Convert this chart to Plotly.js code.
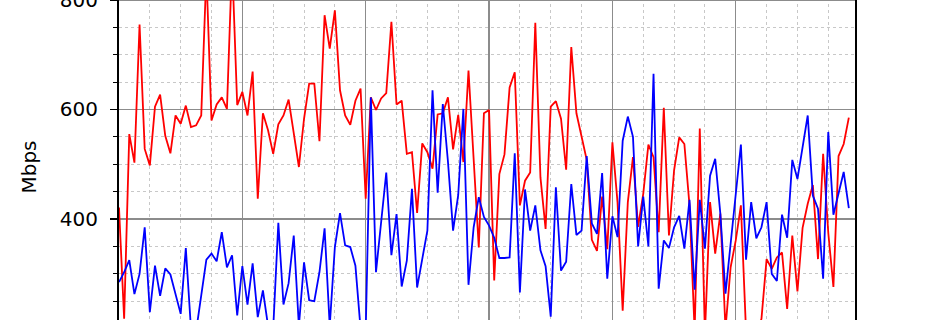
<!DOCTYPE html>
<html>
<head>
<meta charset="utf-8">
<script src="https://cdn.plot.ly/plotly-3.0.1.min.js"></script>
<style>
html, body { margin:0; padding:0; overflow:hidden; background:#ffffff; width:950px; height:320px; }
#chart { position:absolute; left:0; top:-64px; width:950px; height:502px; }
</style>
</head>
<body>
<div id="chart"></div>
<script>
// Throughput samples (Mbps)
const redSeries = [
 421,218,555,503,755,528,498,605,627,552,520,589,574,607,568,571,589,850,580,609,
 622,601,870,608,632,589,669,437,593,562,519,573,589,618,557,495,583,647,647,542,
 772,711,781,635,589,572,616,638,437,622,599,620,630,760,609,616,519,522,411,538,
 522,492,591,593,622,527,590,504,671,510,348,593,599,288,482,518,640,668,425,470,
 485,758,476,382,605,615,583,490,714,593,549,508,362,342,441,345,540,430,233,431,
 513,386,446,536,513,376,603,370,489,549,537,425,195,565,190,431,337,410,200,312,
 361,425,195,180,190,218,327,309,330,339,236,370,268,384,428,462,327,519,375,276,
 515,537,585
];
const blueSeries = [
 285,303,325,263,300,385,230,315,260,310,299,263,227,347,200,195,260,326,337,323,
 376,312,334,224,314,244,319,221,270,205,200,393,244,283,370,205,321,252,250,303,
 383,205,349,411,352,349,315,200,195,622,303,392,485,334,409,277,324,455,275,327,
 379,635,448,610,505,379,444,601,280,385,440,404,388,366,329,329,330,520,266,454,
 379,425,343,314,222,458,306,322,464,371,379,515,392,373,484,291,405,367,543,587,
 550,350,441,350,665,273,361,347,385,406,346,435,271,435,346,479,510,410,264,355,
 445,536,326,431,365,385,431,300,287,408,366,508,473,531,589,443,419,291,559,408,
 446,486,420
];
const sampleIndex = redSeries.map((_, i) => i);
const yTitle = 'Mbps';

const font = {family:'DejaVu Sans, sans-serif', size:20, color:'#000000'};

const traces = [
  {x: sampleIndex, y: redSeries, type:'scatter', mode:'lines',
   line:{color:'#ff0000', width:1.8}, name:'red', hoverinfo:'skip'},
  {x: sampleIndex, y: blueSeries, type:'scatter', mode:'lines',
   line:{color:'#0000ff', width:1.8}, name:'blue', hoverinfo:'skip'}
];

const layout = {
  width:950, height:502,
  margin:{l:119, r:95, t:20, b:60},
  paper_bgcolor:'#ffffff', plot_bgcolor:'#ffffff',
  showlegend:false,
  font: font,
  xaxis:{
    range:[0,143.2], tick0:0, dtick:24,
    ticks:'outside', ticklen:7, tickcolor:'#000000', tickwidth:1.5,
    showticklabels:false,
    showgrid:true, gridcolor:'#8c8c8c', gridwidth:1.4,
    minor:{dtick:6, showgrid:true, gridcolor:'#c8c8c8', griddash:'dot', gridwidth:1},
    showline:true, linecolor:'#000000', linewidth:2, mirror:true,
    zeroline:false, tickfont:font
  },
  yaxis:{
    range:[110,880], tick0:0, dtick:200,
    ticks:'outside', ticklen:7, tickcolor:'#000000', tickwidth:1.5,
    ticklabelstandoff:8,
    showgrid:true, gridcolor:'#8c8c8c', gridwidth:1.4,
    minor:{dtick:50, ticks:'outside', ticklen:4, tickcolor:'#000000', tickwidth:1,
           showgrid:true, gridcolor:'#c8c8c8', griddash:'dot', gridwidth:1},
    showline:true, linecolor:'#000000', linewidth:2, mirror:true,
    zeroline:false, tickfont:font,
    title:{text:yTitle, font:font, standoff:18}
  }
};

Plotly.newPlot('chart', traces, layout, {staticPlot:true, displayModeBar:false});
</script>
</body>
</html>
